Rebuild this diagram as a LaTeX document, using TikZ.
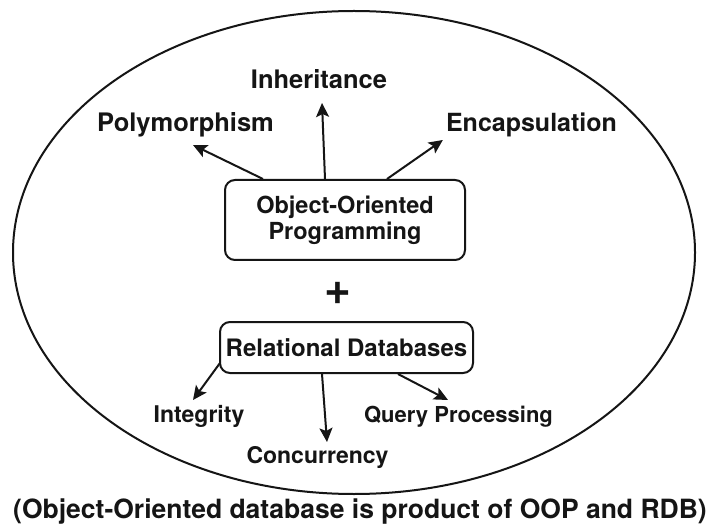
\documentclass[tikz,border=0pt]{standalone}
\usepackage{fontspec}
\setmainfont{TeX Gyre Heros}
\usetikzlibrary{arrows.meta,calc}
\definecolor{ink}{HTML}{151515}
\begin{document}
\begin{tikzpicture}[x=1pt,y=-1pt,
  lbl/.style={inner sep=0pt, anchor=base, text=ink, font=\bfseries\fontsize{#1}{#1}\selectfont},
  boxnode/.style={draw=ink, line width=2pt, rounded corners=10pt, fill=white, text=ink, align=center, inner sep=0pt},
  arr/.style={draw=ink, line width=2pt, -{Stealth[length=14pt,width=13pt,inset=3pt]}},
  ring/.style={draw=ink, line width=2pt}
]
\useasboundingbox (0,0) rectangle (720,529);
\fill[white] (0,0) rectangle (720,529);

% outer ellipse
\draw[ring] (354,252.5) ellipse [x radius=341, y radius=241.5];

% boxes
\node[boxnode, minimum width=240pt, minimum height=80pt,
      font=\bfseries\fontsize{23.5}{26}\selectfont] (oop) at (345,220)
      {Object-Oriented\\Programming};
\node[lbl=46] (plus) at (338,305) {+};
\node[boxnode, minimum width=253pt, minimum height=51pt,
      font=\bfseries\fontsize{24}{26}\selectfont] (rdb) at (346.5,347.5)
      {Relational Databases};

% top labels
\node[lbl=25.5] (inh)  at (319,89)    {Inheritance};
\node[lbl=25.5] (poly) at (185.5,132) {Polymorphism};
\node[lbl=25]   (enc)  at (531.5,132) {Encapsulation};

% bottom labels
\node[lbl=23] (integ) at (199,422)   {Integrity};
\node[lbl=23] (conc)  at (317.5,463) {Concurrency};
\node[lbl=22] (query) at (458.5,422) {Query Processing};

% caption
\node[lbl=26.5] (cap) at (360,518) {(Object-Oriented database is product of OOP and RDB)};

% arrows from OOP
\draw[arr] ($(oop.north)+(-82,0)$) -- ($(poly.base)+(7.5,13)$);
\draw[arr] ($(oop.north)+(-20,0)$) -- ($(inh.base)+(3,14)$);
\draw[arr] ($(oop.north)+(42,0)$)  -- ($(enc.base west)+(-3,8)$);

% arrows from RDB
\draw[arr] ($(rdb.south west)+(1,-11)$) -- ($(integ.base)+(-6,-22)$);
\draw[arr] ($(rdb.south)+(-24.5,0)$) -- ($(conc.base)+(9.5,-21)$);
\draw[arr] ($(rdb.south)+(51.5,0)$)  -- ($(query.base)+(-10.5,-22)$);
\end{tikzpicture}
\end{document}
